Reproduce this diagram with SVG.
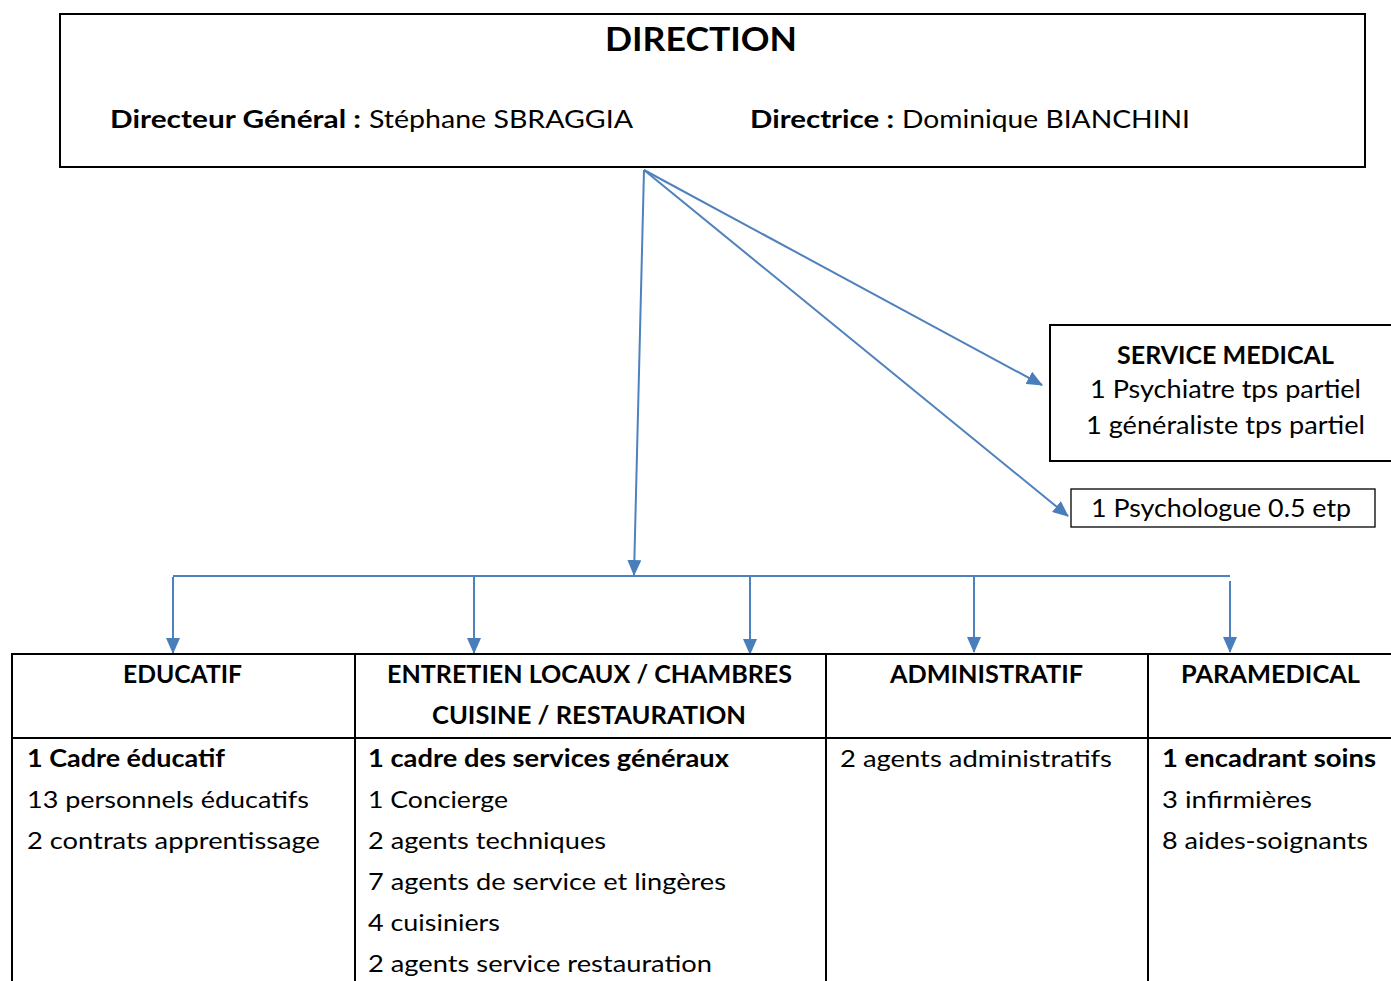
<svg xmlns="http://www.w3.org/2000/svg" width="1391" height="981" viewBox="0 0 1391 981">
<defs>
<style>
text{font-family:Lato,"Liberation Sans",sans-serif;fill:#000}
.b{font-weight:bold}
.box{fill:#fff;stroke:#000;stroke-width:2}
.thin{fill:#fff;stroke:#000;stroke-width:1.3}
.c{fill:none;stroke:#4f81bd;stroke-width:2}
.t{font-size:24px}
.m{font-size:25px}
</style>
<marker id="ah" markerUnits="userSpaceOnUse" markerWidth="16" markerHeight="14" refX="15" refY="7" orient="auto">
<path d="M0,0 L16,7 L0,14 Z" fill="#4a7ebb"/>
</marker>
</defs>
<rect width="1391" height="981" fill="#fff"/>

<g id="direction">
<rect class="box" x="60" y="14" width="1305" height="153"/>
<text class="b" x="605" y="51" font-size="32" textLength="192" lengthAdjust="spacingAndGlyphs">DIRECTION</text>
<text class="b" x="110" y="128" font-size="25" textLength="251" lengthAdjust="spacingAndGlyphs">Directeur Général :</text>
<text x="369" y="128" font-size="25" textLength="264" lengthAdjust="spacingAndGlyphs">Stéphane SBRAGGIA</text>
<text class="b" x="750" y="128" font-size="25" textLength="144" lengthAdjust="spacingAndGlyphs">Directrice :</text>
<text x="902" y="128" font-size="25" textLength="288" lengthAdjust="spacingAndGlyphs">Dominique BIANCHINI</text>
</g>

<g id="service-medical">
<rect class="box" x="1050" y="325" width="345" height="136"/>
<text class="b m" x="1117" y="364" textLength="217" lengthAdjust="spacingAndGlyphs">SERVICE MEDICAL</text>
<text class="m" x="1090" y="398" textLength="271" lengthAdjust="spacingAndGlyphs">1 Psychiatre tps partiel</text>
<text class="m" x="1086" y="434" textLength="279" lengthAdjust="spacingAndGlyphs">1 généraliste tps partiel</text>
</g>

<g id="psychologue">
<rect class="thin" x="1071" y="489" width="304" height="38"/>
<text class="m" x="1091" y="517" textLength="260" lengthAdjust="spacingAndGlyphs">1 Psychologue 0.5 etp</text>
</g>

<g id="connectors">
<line class="c" x1="644" y1="170" x2="634" y2="575" marker-end="url(#ah)"/>
<line class="c" x1="644" y1="170" x2="1042" y2="385" marker-end="url(#ah)"/>
<line class="c" x1="644" y1="170" x2="1068" y2="516" marker-end="url(#ah)"/>
<line class="c" x1="173" y1="576" x2="1230" y2="576"/>
<line class="c" x1="173" y1="577" x2="173" y2="653" marker-end="url(#ah)"/>
<line class="c" x1="474" y1="577" x2="474" y2="653" marker-end="url(#ah)"/>
<line class="c" x1="750" y1="577" x2="750" y2="654" marker-end="url(#ah)"/>
<line class="c" x1="974" y1="577" x2="974" y2="652" marker-end="url(#ah)"/>
<line class="c" x1="1230" y1="581" x2="1230" y2="652" marker-end="url(#ah)"/>
</g>

<g id="table">
<rect class="box" x="12" y="654" width="1390" height="340"/>
<line stroke="#000" stroke-width="2" x1="12" y1="738" x2="1391" y2="738"/>
<line stroke="#000" stroke-width="2" x1="355" y1="654" x2="355" y2="981"/>
<line stroke="#000" stroke-width="2" x1="826" y1="654" x2="826" y2="981"/>
<line stroke="#000" stroke-width="2" x1="1148" y1="654" x2="1148" y2="981"/>
</g>

<g id="educatif">
<text class="b t" x="123" y="683" textLength="119" lengthAdjust="spacingAndGlyphs">EDUCATIF</text>
<text class="b t" x="27" y="767" textLength="198" lengthAdjust="spacingAndGlyphs">1 Cadre éducatif</text>
<text class="t" x="27" y="808" textLength="282" lengthAdjust="spacingAndGlyphs">13 personnels éducatifs</text>
<text class="t" x="27" y="849" textLength="293" lengthAdjust="spacingAndGlyphs">2 contrats apprentissage</text>
</g>

<g id="entretien">
<text class="b t" x="387" y="683" textLength="405" lengthAdjust="spacingAndGlyphs">ENTRETIEN LOCAUX / CHAMBRES</text>
<text class="b t" x="432" y="724" textLength="314" lengthAdjust="spacingAndGlyphs">CUISINE / RESTAURATION</text>
<text class="b t" x="368" y="767" textLength="361" lengthAdjust="spacingAndGlyphs">1 cadre des services généraux</text>
<text class="t" x="368" y="808" textLength="140" lengthAdjust="spacingAndGlyphs">1 Concierge</text>
<text class="t" x="368" y="849" textLength="238" lengthAdjust="spacingAndGlyphs">2 agents techniques</text>
<text class="t" x="368" y="890" textLength="358" lengthAdjust="spacingAndGlyphs">7 agents de service et lingères</text>
<text class="t" x="368" y="931" textLength="132" lengthAdjust="spacingAndGlyphs">4 cuisiniers</text>
<text class="t" x="368" y="972" textLength="344" lengthAdjust="spacingAndGlyphs">2 agents service restauration</text>
</g>

<g id="administratif">
<text class="b t" x="890" y="683" textLength="193" lengthAdjust="spacingAndGlyphs">ADMINISTRATIF</text>
<text class="t" x="840" y="767" textLength="272" lengthAdjust="spacingAndGlyphs">2 agents administratifs</text>
</g>

<g id="paramedical">
<text class="b t" x="1181" y="683" textLength="179" lengthAdjust="spacingAndGlyphs">PARAMEDICAL</text>
<text class="b t" x="1162" y="767" textLength="214" lengthAdjust="spacingAndGlyphs">1 encadrant soins</text>
<text class="t" x="1162" y="808" textLength="150" lengthAdjust="spacingAndGlyphs">3 infirmières</text>
<text class="t" x="1162" y="849" textLength="206" lengthAdjust="spacingAndGlyphs">8 aides-soignants</text>
</g>
</svg>
